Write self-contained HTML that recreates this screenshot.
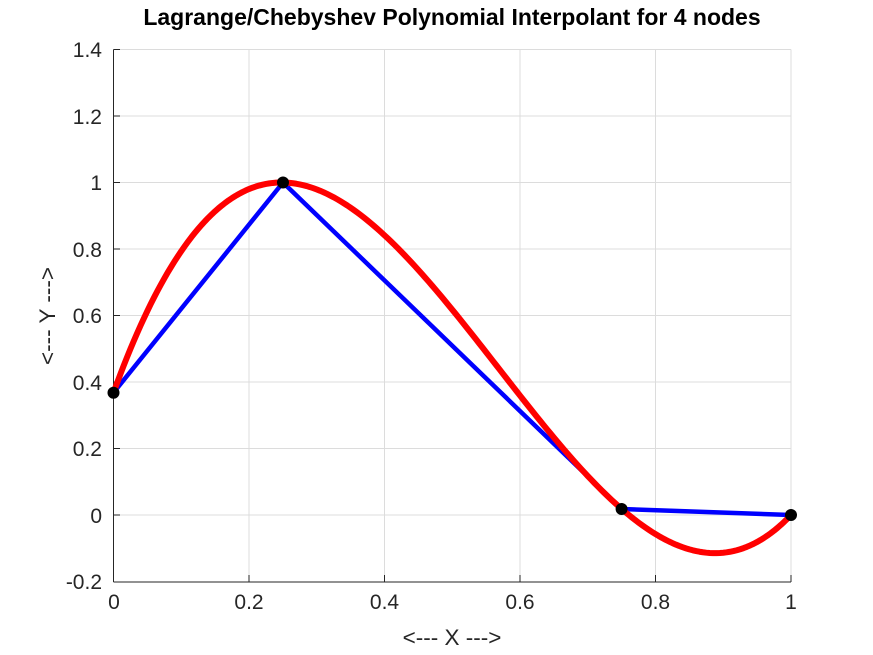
<!DOCTYPE html>
<html><head><meta charset="utf-8"><style>
html,body{margin:0;padding:0;background:#fff;}
svg{display:block;font-family:"Liberation Sans",sans-serif;}
</style></head><body>
<svg width="873" height="655" xmlns="http://www.w3.org/2000/svg">
<rect width="873" height="655" fill="#fff"/>
<g stroke="#dcdcdc" stroke-width="1">
<line x1="249" y1="49.5" x2="249" y2="582"/><line x1="384.5" y1="49.5" x2="384.5" y2="582"/>
<line x1="520" y1="49.5" x2="520" y2="582"/><line x1="655.5" y1="49.5" x2="655.5" y2="582"/>
<line x1="791" y1="49.5" x2="791" y2="582"/>
<line x1="113.5" y1="49.5" x2="791" y2="49.5"/><line x1="113.5" y1="116" x2="791" y2="116"/>
<line x1="113.5" y1="182.5" x2="791" y2="182.5"/><line x1="113.5" y1="249" x2="791" y2="249"/>
<line x1="113.5" y1="315.5" x2="791" y2="315.5"/><line x1="113.5" y1="382" x2="791" y2="382"/>
<line x1="113.5" y1="448.5" x2="791" y2="448.5"/><line x1="113.5" y1="515" x2="791" y2="515"/>
</g>
<g stroke="#262626" stroke-width="1">
<line x1="113.5" y1="49.5" x2="113.5" y2="582"/>
<line x1="113.5" y1="582" x2="791" y2="582"/>
<line x1="113.5" y1="49.5" x2="120" y2="49.5"/><line x1="113.5" y1="116" x2="120" y2="116"/>
<line x1="113.5" y1="182.5" x2="120" y2="182.5"/><line x1="113.5" y1="249" x2="120" y2="249"/>
<line x1="113.5" y1="315.5" x2="120" y2="315.5"/><line x1="113.5" y1="382" x2="120" y2="382"/>
<line x1="113.5" y1="448.5" x2="120" y2="448.5"/><line x1="113.5" y1="515" x2="120" y2="515"/>
<line x1="249" y1="582" x2="249" y2="575"/><line x1="384.5" y1="582" x2="384.5" y2="575"/>
<line x1="520" y1="582" x2="520" y2="575"/><line x1="655.5" y1="582" x2="655.5" y2="575"/>
<line x1="791" y1="582" x2="791" y2="575"/>
</g>
<g fill="#262626" font-size="21" text-anchor="end">
<text x="102" y="57">1.4</text><text x="102" y="124">1.2</text><text x="102" y="190">1</text>
<text x="102" y="257">0.8</text><text x="102" y="323">0.6</text><text x="102" y="390">0.4</text>
<text x="102" y="456">0.2</text><text x="102" y="523">0</text><text x="102" y="589">-0.2</text>
</g>
<g fill="#262626" font-size="21" text-anchor="middle">
<text x="114" y="609">0</text><text x="249" y="609">0.2</text><text x="384.5" y="609">0.4</text>
<text x="520" y="609">0.6</text><text x="655.5" y="609">0.8</text><text x="791" y="609">1</text>
<text x="452" y="645" font-size="22.5">&lt;--- X ---&gt;</text>
<text transform="translate(55,316) rotate(-90)" font-size="22.5">&lt;--- Y ---&gt;</text>
<text x="452" y="25" font-size="23" font-weight="bold" fill="#000">Lagrange/Chebyshev Polynomial Interpolant for 4 nodes</text>
</g>
<polyline fill="none" stroke="#0000ff" stroke-width="4.5" stroke-linejoin="round"
 points="113.5,392.7 283,182.5 621.6,509 791,515"/>
<path id="red" fill="none" stroke="#ff0000" stroke-width="6" stroke-linejoin="round" d=""/>
<g fill="#000">
<circle cx="113.5" cy="392.7" r="6"/><circle cx="283" cy="182.5" r="6"/>
<circle cx="621.6" cy="509" r="6"/><circle cx="791" cy="515" r="6"/>
</g>
<script>
var d="";
for(var i=0;i<=200;i++){var x=i/200;var y=0.3679+5.6212*x-14.4984*x*x+8.5093*x*x*x;
var px=113.5+x*677.5, py=515-y*332.5; d+=(i?"L":"M")+px.toFixed(2)+","+py.toFixed(2);}
document.getElementById("red").setAttribute("d",d);
</script>
</svg>
</body></html>
